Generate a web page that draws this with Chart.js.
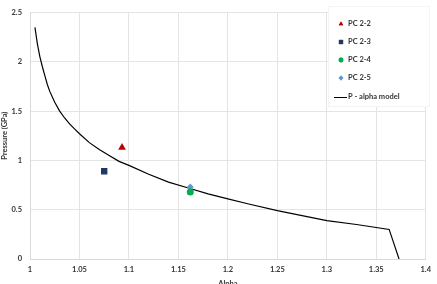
<!DOCTYPE html>
<html>
<head>
<meta charset="utf-8">
<script src="https://cdn.jsdelivr.net/npm/chart.js@4"></script>
<style>
  html, body { margin: 0; padding: 0; background: #fff; }
  #wrap { width: 437px; height: 284px; }
</style>
</head>
<body>
<div id="wrap"><canvas id="chart" width="437" height="284"></canvas></div>
<script>
// p-alpha model curve
const modelAlpha = [1.005, 1.0075, 1.01, 1.0125, 1.015, 1.0175, 1.02, 1.025, 1.03, 1.035, 1.04, 1.045,
  1.05, 1.06, 1.07, 1.08, 1.09, 1.1, 1.12, 1.14, 1.16, 1.18, 1.2, 1.22, 1.25, 1.28, 1.3, 1.33, 1.363, 1.373];
const modelP = [2.35, 2.18, 2.05, 1.95, 1.86, 1.77, 1.70, 1.59, 1.50, 1.43, 1.37, 1.32,
  1.27, 1.18, 1.11, 1.05, 0.99, 0.95, 0.86, 0.78, 0.72, 0.66, 0.61, 0.56, 0.49, 0.43, 0.39, 0.35, 0.30, 0];

// measured samples
const sampleNames = ["PC 2-2", "PC 2-3", "PC 2-4", "PC 2-5"];
const sampleAlpha = [1.093, 1.075, 1.162, 1.162];
const sampleP = [1.13, 0.89, 0.68, 0.73];
const sampleColors = ["#c00000", "#1f3864", "#00b050", "#5b9bd5"];
const sampleShapes = ["triangle", "rect", "circle", "rectRot"];
const sampleSizes = [4.5, 4.5, 3.5, 3.5];

const xTicks = [1, 1.05, 1.1, 1.15, 1.2, 1.25, 1.3, 1.35, 1.4];
const yTicks = [0, 0.5, 1, 1.5, 2, 2.5];

const FONT = "Lato, 'Liberation Sans', sans-serif";
const TEXT = "#333";

const datasets = sampleNames.map((name, i) => ({
  label: name,
  type: 'scatter',
  data: [{ x: sampleAlpha[i], y: sampleP[i] }],
  backgroundColor: sampleColors[i],
  borderColor: sampleColors[i],
  pointStyle: sampleShapes[i],
  pointRadius: sampleSizes[i],
  pointBorderWidth: 0
}));
datasets.push({
  label: "P - alpha model",
  type: 'line',
  data: modelAlpha.map((a, i) => ({ x: a, y: modelP[i] })),
  borderColor: "#000",
  borderWidth: 1.2,
  pointRadius: 0,
  tension: 0,
  fill: false
});

// legend drawn inside the plot area, top right
const insideLegend = {
  id: 'insideLegend',
  afterDatasetsDraw(chart) {
    const ctx = chart.ctx;
    const bx = 328, by = 6, bw = 101, bh = 100;
    ctx.save();
    ctx.fillStyle = "#fff";
    ctx.fillRect(bx, by, bw, bh);
    ctx.strokeStyle = "#f4f4f4";
    ctx.lineWidth = 1;
    ctx.strokeRect(bx + 0.5, by + 0.5, bw, bh);
    ctx.font = "bold 7.5px " + FONT;
    ctx.textBaseline = "middle";
    const rows = [24, 42, 60, 78, 97];
    const sizes = [2.6, 3, 2.4, 2.4];
    sampleNames.forEach((name, i) => {
      ctx.fillStyle = sampleColors[i];
      Chart.helpers.drawPoint(ctx, {
        pointStyle: sampleShapes[i], radius: sizes[i], borderWidth: 0
      }, 341, rows[i]);
      ctx.fill();
      ctx.fillStyle = TEXT;
      ctx.fillText(name, 348, rows[i]);
    });
    ctx.strokeStyle = "#000";
    ctx.lineWidth = 1;
    ctx.beginPath();
    ctx.moveTo(334, 97.5);
    ctx.lineTo(347, 97.5);
    ctx.stroke();
    ctx.fillStyle = TEXT;
    ctx.fillText(datasets[4].label, 348, rows[4]);
    ctx.restore();
  }
};

new Chart(document.getElementById('chart'), {
  type: 'scatter',
  data: { datasets },
  plugins: [insideLegend],
  options: {
    responsive: false,
    animation: false,
    layout: { padding: { top: 6, right: 8, left: 0, bottom: 0 } },
    plugins: {
      legend: { display: false },
      tooltip: { enabled: false }
    },
    scales: {
      x: {
        type: 'linear',
        min: 1, max: 1.4,
        afterBuildTicks: s => { s.ticks = xTicks.map(v => ({ value: v })); },
        afterFit: s => { s.height = 25; },
        grid: { color: "#e4e4e4", drawTicks: false },
        border: { color: "#d9d9d9" },
        ticks: {
          padding: 6, color: TEXT, maxRotation: 0,
          font: { family: FONT, size: 7.5, weight: 'bold' },
          callback: v => String(v)
        },
        title: {
          display: true, text: "Alpha", color: TEXT,
          font: { family: FONT, size: 7.5, weight: 'bold' },
          padding: { top: 2, bottom: -4 }
        }
      },
      y: {
        min: 0, max: 2.5,
        afterBuildTicks: s => { s.ticks = yTicks.map(v => ({ value: v })); },
        afterFit: s => { s.width = 30; },
        grid: { color: "#e4e4e4", drawTicks: false },
        border: { color: "#d9d9d9" },
        ticks: {
          padding: 8, color: TEXT,
          font: { family: FONT, size: 7.5, weight: 'bold' },
          callback: v => String(v)
        },
        title: {
          display: true, text: "Pressure (GPa)", color: TEXT,
          font: { family: FONT, size: 7.5, weight: 'bold' },
          padding: { top: 0, bottom: 0 }
        }
      }
    }
  }
});
</script>
</body>
</html>
